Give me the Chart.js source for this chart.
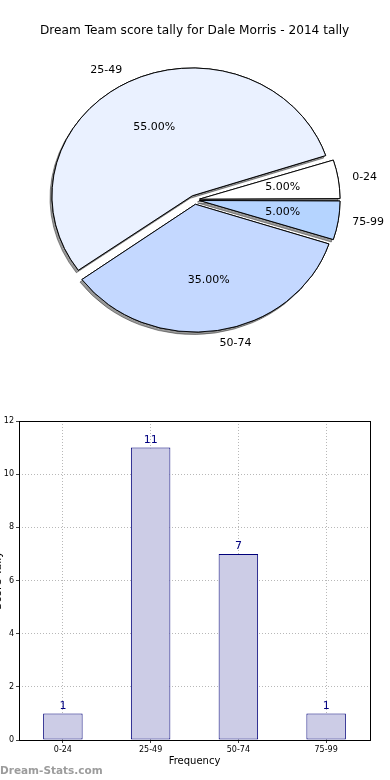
<!DOCTYPE html>
<html><head><meta charset="utf-8">
<script src="https://cdn.jsdelivr.net/npm/chart.js@4.4.1/dist/chart.umd.min.js"></script>
<style>html,body{margin:0;padding:0;background:#fff;width:390px;height:780px;overflow:hidden}canvas{display:block}</style>
</head><body>
<canvas id="pie" width="390" height="400"></canvas>
<canvas id="bar" width="390" height="380"></canvas>
<script>
const chartTitle = 'Dream Team score tally for Dale Morris - 2014 tally';
const categories = ['0-24', '25-49', '50-74', '75-99'];
const tally = [1, 11, 7, 1];
const sliceColors = ['#ffffff', '#eaf1ff', '#c4d8ff', '#b5d4ff'];
const yTicks = [0, 2, 4, 6, 8, 10, 12];
const xAxisTitle = 'Frequency';
const yAxisTitle = 'Score Tally';
const watermark = 'Dream-Stats.com';

Chart.defaults.font.family = '"DejaVu Sans", sans-serif';
Chart.defaults.color = '#000';

// keep every exploded slice at the same radius (Chart.js enlarges offset arcs)
if (Chart.ArcElement) {
  const origArcDraw = Chart.ArcElement.prototype.draw;
  Chart.ArcElement.prototype.draw = function (ctx) {
    const off = (this.options.offset || 0) / 4;
    const fix = 1 - Math.sin(Math.min(Math.PI, this.circumference || 0));
    const r = this.outerRadius;
    this.outerRadius = r - off * fix;
    origArcDraw.call(this, ctx);
    this.outerRadius = r;
  };
}

// pie drawn clockwise from east, so reverse order to mimic counter-clockwise layout
const pieLabels = categories.slice().reverse();
const pieValues = tally.slice().reverse();
const pieColors = sliceColors.slice().reverse();
const total = tally.reduce((a, b) => a + b, 0);

const KY = 0.91, OFF = 20, SHIFT = OFF / 4;
function ellipse(chart, ctx) {
  const a = chart.getDatasetMeta(0).data[0];
  ctx.translate(a.x, a.y); ctx.scale(1, KY); ctx.translate(-a.x, -a.y);
}
const piePlugin = {
  id: 'piePlugin',
  beforeDatasetsDraw(chart) {
    const ctx = chart.ctx, arcs = chart.getDatasetMeta(0).data;
    ctx.save(); ellipse(chart, ctx);
    ctx.shadowColor = 'rgba(0,0,0,0.4)'; ctx.shadowOffsetX = -2; ctx.shadowOffsetY = 2.5; ctx.shadowBlur = 0;
    arcs.forEach(a => a.draw(ctx));
    ctx.restore();
    ctx.save(); ellipse(chart, ctx);
  },
  afterDatasetsDraw(chart) {
    const ctx = chart.ctx; ctx.restore();
    const arcs = chart.getDatasetMeta(0).data;
    ctx.save();
    ctx.font = '11px "DejaVu Sans"'; ctx.fillStyle = '#000'; ctx.textBaseline = 'middle';
    arcs.forEach((a, i) => {
      const mid = (a.startAngle + a.endAngle) / 2, c = Math.cos(mid), s = Math.sin(mid);
      const R = a.outerRadius;
      const ox = a.x + c * SHIFT, oy = a.y + s * SHIFT * KY;
      const pct = (pieValues[i] / total * 100).toFixed(2) + '%';
      ctx.textAlign = 'center';
      ctx.fillText(pct, ox + c * R * 0.6, oy + s * R * 0.6 * KY);
      ctx.textAlign = c >= 0 ? 'left' : 'right';
      ctx.fillText(pieLabels[i], ox + c * R * 1.1, oy + s * R * 1.1 * KY);
    });
    ctx.restore();
  }
};

new Chart(document.getElementById('pie'), {
  type: 'pie',
  data: { labels: pieLabels, datasets: [{ data: pieValues, backgroundColor: pieColors, borderColor: '#000', borderWidth: 1, borderJoinStyle: 'miter', offset: OFF, hoverOffset: 0 }] },
  options: {
    responsive: false, animation: false, events: [],
    rotation: 90, radius: 140.4,
    layout: { padding: { left: 40, right: 40.7, top: 0, bottom: 39 } },
    plugins: {
      legend: { display: false }, tooltip: { enabled: false },
      title: { display: true, text: chartTitle, font: { size: 13, weight: 'normal' }, color: '#000', padding: { top: 23, bottom: 0 } }
    }
  },
  plugins: [piePlugin]
});

const barPlugin = {
  id: 'barPlugin',
  afterDraw(chart) {
    const ctx = chart.ctx, ca = chart.chartArea;
    ctx.save();
    ctx.strokeStyle = '#000'; ctx.lineWidth = 1;
    ctx.strokeRect(Math.round(ca.left) + 0.5, Math.round(ca.top) + 0.5, Math.round(ca.right - ca.left), Math.round(ca.bottom - ca.top));
    const bars = chart.getDatasetMeta(0).data;
    ctx.font = '11px "DejaVu Sans"'; ctx.fillStyle = '#000080'; ctx.textAlign = 'center'; ctx.textBaseline = 'bottom';
    bars.forEach((b, i) => ctx.fillText(String(tally[i]), b.x, b.y - 2));
    ctx.font = '11px "DejaVu Sans"'; ctx.fillStyle = '#000';
    ctx.translate(0.5, (ca.top + ca.bottom) / 2); ctx.rotate(-Math.PI / 2);
    ctx.textAlign = 'center'; ctx.textBaseline = 'alphabetic';
    ctx.fillText(yAxisTitle, 0, 0);
    ctx.restore();
    ctx.save();
    ctx.font = 'bold 10.5px "DejaVu Sans"'; ctx.fillStyle = '#9c9c9c'; ctx.textAlign = 'left'; ctx.textBaseline = 'middle';
    ctx.fillText(watermark, 0, 371);
    ctx.restore();
  }
};

const gridOpts = { offset: false, color: '#b8b8b8', lineWidth: 1, drawTicks: true, tickLength: 3, tickColor: '#444' };
new Chart(document.getElementById('bar'), {
  type: 'bar',
  data: { labels: categories, datasets: [{ data: tally, backgroundColor: '#ccccе6'.replace('е', 'e'), borderColor: '#00007a', borderWidth: 1, borderSkipped: false, barPercentage: 0.45, categoryPercentage: 1 }] },
  options: {
    responsive: false, animation: false, events: [],
    layout: { padding: { left: 0, right: 20, top: 21, bottom: 10 } },
    plugins: { legend: { display: false }, tooltip: { enabled: false } },
    scales: {
      x: {
        z: 1, grid: gridOpts, border: { display: false, dash: [1, 2] },
        ticks: { font: { size: 8 }, color: '#000', padding: 2, maxRotation: 0 },
        title: { display: true, text: xAxisTitle, font: { size: 10 }, color: '#000', padding: { top: 2, bottom: 3 } },
        afterFit(s) { s.height = 30; }
      },
      y: {
        z: 1, min: 0, max: 12,
        afterBuildTicks(s) { s.ticks = yTicks.map(v => ({ value: v })); },
        grid: gridOpts, border: { display: false, dash: [1, 2] },
        ticks: { font: { size: 8 }, color: '#000', padding: 2 },
        afterFit(s) { s.width = 19; }
      }
    }
  },
  plugins: [barPlugin]
});
</script>
</body></html>
